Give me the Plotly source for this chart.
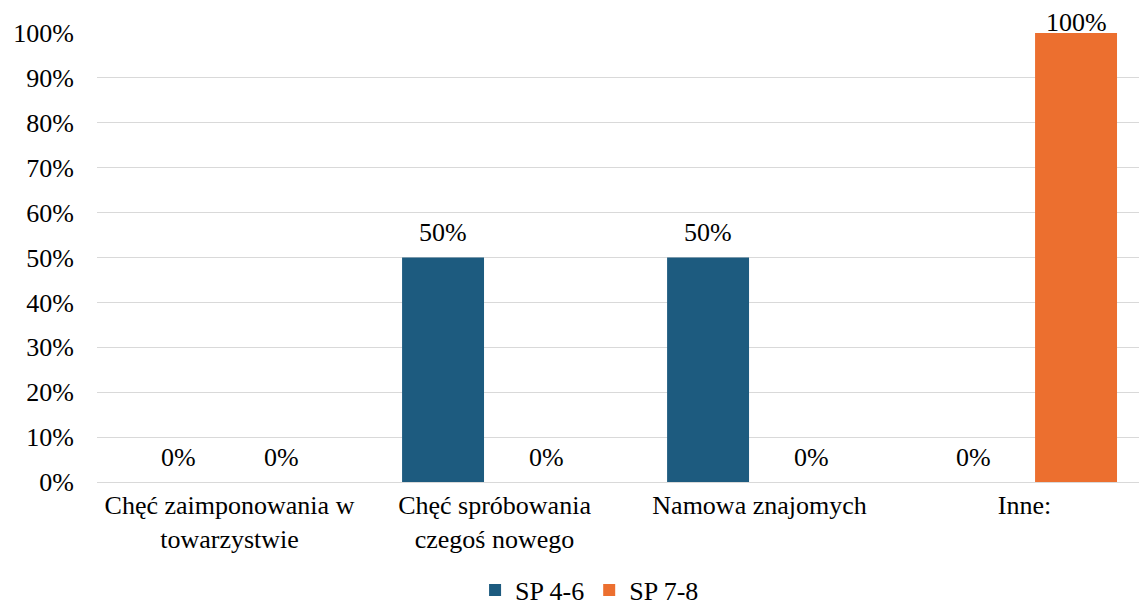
import plotly.graph_objects as go

# categories (x axis) and the two series, as fractions
categories = ["Chęć zaimponowania w<br>towarzystwie",
              "Chęć spróbowania<br>czegoś nowego",
              "Namowa znajomych",
              "Inne:"]
sp_4_6 = [0.0, 0.5, 0.5, 0.0]
sp_7_8 = [0.0, 0.0, 0.0, 1.0]
series_names = ["SP 4-6", "SP 7-8"]

font_family = "Liberation Serif, Times New Roman, serif"
series_colors = ["#1d5b7f", "#ec6f2f"]
label_offsets = [-51.5, 51.5]  # px, half a bar slot left / right of the category centre

fig = go.Figure()

# one trace per school group
for name, values, color in zip(series_names, [sp_4_6, sp_7_8], series_colors):
    fig.add_trace(go.Bar(
        x=categories,
        y=values,
        name=name,
        marker=dict(color=color, line=dict(width=0)),
        cliponaxis=False,
    ))

# value labels above each bar (the 100% one is pulled down to stay on the page)
for values, xshift in zip([sp_4_6, sp_7_8], label_offsets):
    for cat, v in zip(categories, values):
        fig.add_annotation(
            x=cat, y=v, xref="x", yref="y",
            text=f"{v:.0%}",
            showarrow=False,
            xshift=xshift,
            yanchor="middle",
            yshift=11 if v >= 1 else 25,
            font=dict(family=font_family, size=26, color="black"),
        )

# the page body has an 8px margin, so the figure is sized to fit the window
fig.update_layout(
    width=1139,
    height=600,
    barmode="group",
    bargap=0.223,
    bargroupgap=0.204,
    plot_bgcolor="white",
    paper_bgcolor="white",
    font=dict(family=font_family, size=26, color="black"),
    margin=dict(l=89, r=0, t=25, b=126, autoexpand=False),
    legend=dict(
        orientation="h",
        xref="container",
        x=0.5106, xanchor="center",
        yref="container",
        y=0.03, yanchor="middle",
        font=dict(size=26),
        itemwidth=30,
    ),
)

fig.update_yaxes(
    range=[0, 1],
    dtick=0.1,
    tickformat=".0%",
    showgrid=True,
    gridcolor="#d9d9d9",
    gridwidth=1,
    zeroline=False,
    automargin=False,
    ticklabelstandoff=22,
)
# the last category runs off the right edge in the original
fig.update_xaxes(
    range=[-0.5, 3.462],
    showline=True,
    linecolor="#d9d9d9",
    linewidth=1,
    ticks="",
    automargin=False,
)

fig.write_html("out.html")
